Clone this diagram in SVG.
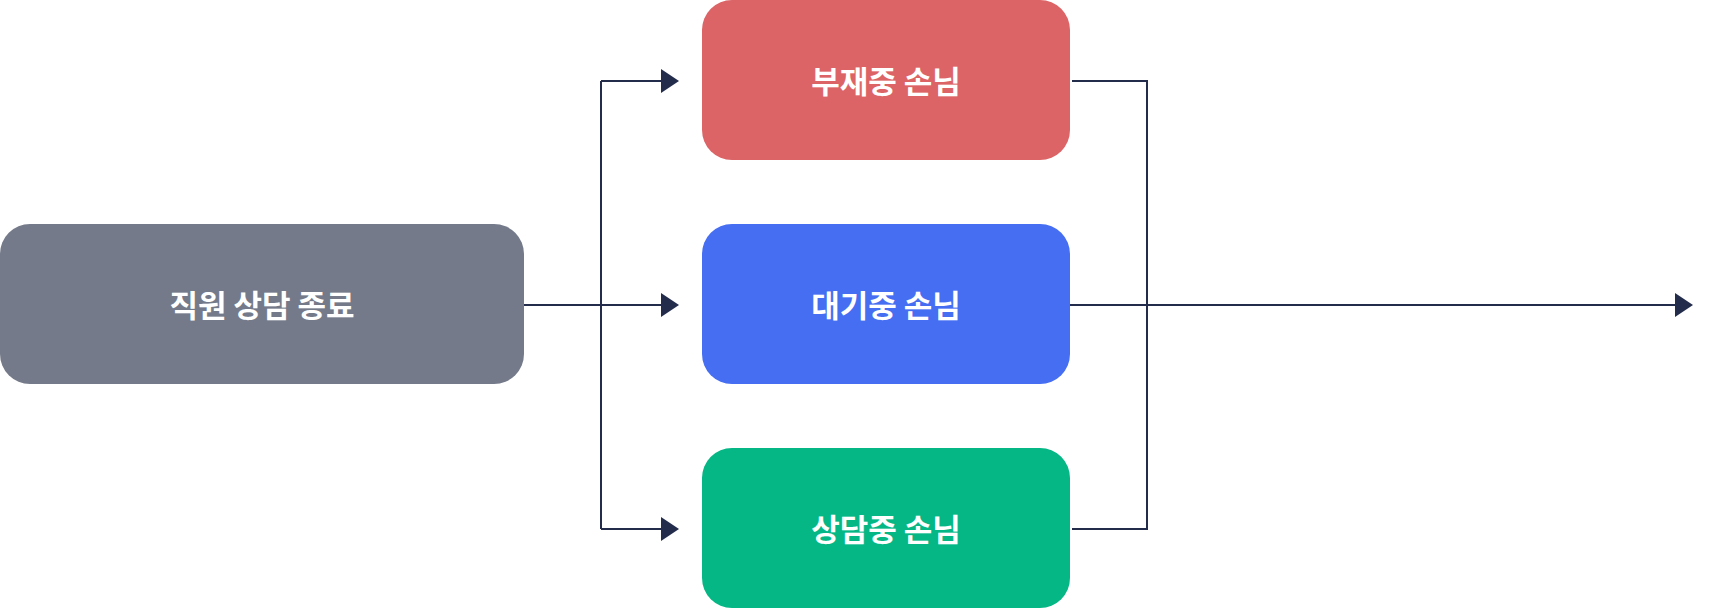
<svg xmlns="http://www.w3.org/2000/svg" width="1716" height="608" viewBox="0 0 1716 608">
<style>
.lbl{font-family:"Noto Sans CJK KR","Noto Sans",sans-serif;font-weight:700;font-size:31px;fill:#ffffff;text-anchor:middle;dominant-baseline:central}
.ln{fill:none;stroke:#232d4b;stroke-width:2}
</style>
<defs>
<marker id="arr" markerUnits="userSpaceOnUse" markerWidth="18" markerHeight="24" refX="0" refY="12" orient="auto" viewBox="0 0 18 24">
<path d="M0,0 L18,12 L0,24 Z" fill="#232d4b"/>
</marker>
</defs>
<rect width="1716" height="608" fill="#ffffff"/>
<g id="connectors">
<path class="ln" d="M524,305 H661" marker-end="url(#arr)"/>
<path class="ln" d="M601,81 V529"/>
<path class="ln" d="M601,81 H661" marker-end="url(#arr)"/>
<path class="ln" d="M601,529 H661" marker-end="url(#arr)"/>
<path class="ln" d="M1072,81 H1147 V529 H1072"/>
<path class="ln" d="M1070,305 H1675" marker-end="url(#arr)"/>
</g>
<g id="node-end">
<rect x="0" y="224" width="524" height="160" rx="30" fill="#747a89"/>
<text class="lbl" x="262" y="303">직원 상담 종료</text>
</g>
<g id="node-absent">
<rect x="702" y="0" width="368" height="160" rx="30" fill="#dd6466"/>
<text class="lbl" x="886" y="79">부재중 손님</text>
</g>
<g id="node-waiting">
<rect x="702" y="224" width="368" height="160" rx="30" fill="#456ef2"/>
<text class="lbl" x="886" y="303">대기중 손님</text>
</g>
<g id="node-consulting">
<rect x="702" y="448" width="368" height="160" rx="30" fill="#06b786"/>
<text class="lbl" x="886" y="527">상담중 손님</text>
</g>
</svg>
